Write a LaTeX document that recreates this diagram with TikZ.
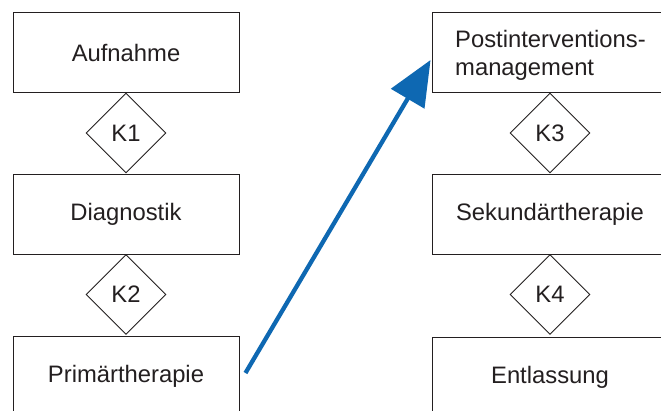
\documentclass[tikz,border=0pt]{standalone}
\usepackage{fontspec}
\setmainfont{Liberation Sans}
\usetikzlibrary{shapes.geometric,arrows.meta,calc}
\definecolor{inkgray}{RGB}{35,31,32}
\definecolor{flowblue}{RGB}{14,104,178}
\tikzset{
  stagebox/.style={draw=inkgray, line width=0.9pt, minimum width=226pt, minimum height=80pt,
    inner sep=0pt, text=inkgray, font=\fontsize{23.8}{28}\selectfont},
  gate/.style={draw=inkgray, line width=0.9pt, shape=diamond, minimum width=80pt,
    minimum height=80pt, inner sep=0pt, text=inkgray, font=\fontsize{23.8}{28}\selectfont},
  jump/.style={draw=flowblue, line width=4.3pt, -{Triangle[length=45pt 0,width=38pt 0]}}
}
\begin{document}
\begin{tikzpicture}[x=1pt,y=-1pt]
\useasboundingbox (0,0) rectangle (661,410);
\clip (0,0) rectangle (661,410);
\fill[white] (0,0) rectangle (661,410);
% left column
\node[stagebox] (auf) at (126,52.5) {Aufnahme};
\node[gate] (k1) at (126,133) {K1};
\node[stagebox] (dia) at (126,214) {Diagnostik};
\node[gate] (k2) at (126,294.5) {K2};
\node[stagebox] (pri) at (126,376.5) {Primärtherapie};
% right column
\node[stagebox, minimum width=236pt] (post) at (550,52.5) {};
\node[text=inkgray, font=\fontsize{23.8}{28}\selectfont, align=left, anchor=west, inner sep=0pt]
  (posttxt) at (455,55) {Postinterventions-\\management};
\node[gate] (k3) at (550,133) {K3};
\node[stagebox, minimum width=236pt] (sek) at (550,214) {Sekundärtherapie};
\node[gate] (k4) at (550,294.5) {K4};
\node[stagebox, minimum width=236pt] (ent) at (550,377) {Entlassung};
% jump from primary therapy to post-intervention management
\draw[jump] ($(pri.east)+(6,-3.5)$) -- ($(post.west)+(-1,7.5)$);
\end{tikzpicture}
\end{document}
